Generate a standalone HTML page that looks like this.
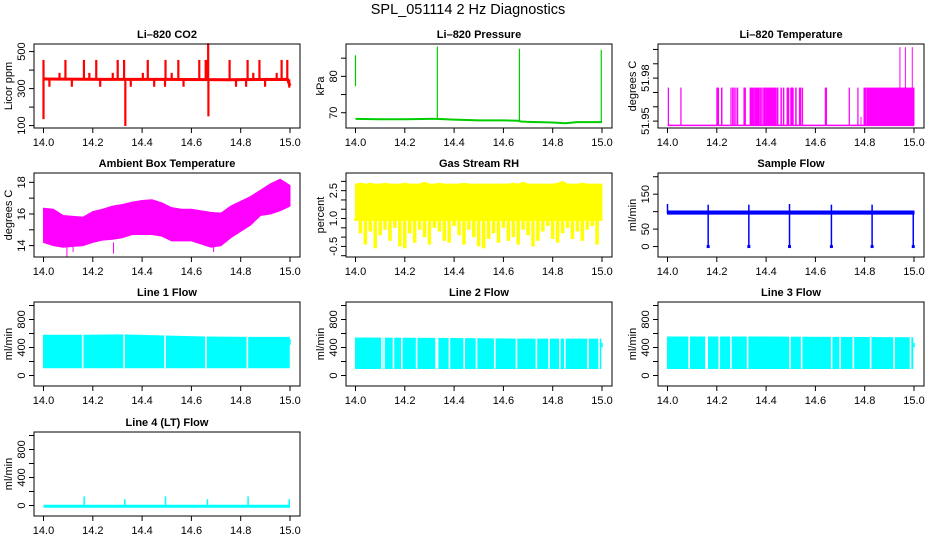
<!DOCTYPE html>
<html><head><meta charset="utf-8"><title>SPL_051114 2 Hz Diagnostics</title>
<style>
html,body{margin:0;padding:0;background:#fff;}
svg{display:block;font-family:"Liberation Sans",Arial,sans-serif;}
</style></head>
<body>
<svg id="chart" width="936" height="540" viewBox="0 0 936 540" xmlns="http://www.w3.org/2000/svg">
<rect width="936" height="540" fill="#fff"/>
<text x="468" y="14" text-anchor="middle" font-size="14.5">SPL_051114  2 Hz Diagnostics</text>
</svg>
<script>
// ---- data ----
const xTicks=[14.0,14.2,14.4,14.6,14.8,15.0];
const xTickLabels=["14.0","14.2","14.4","14.6","14.8","15.0"];

// CO2
const co2BaseT=[14.0,14.25,14.5,14.75,14.99,15.0];
const co2BaseV=[352,350,350,348,350,315];
const co2SpikeT=[14.0,14.0,14.089,14.164,14.214,14.301,14.327,14.332,14.423,14.495,14.547,14.632,14.658,14.662,14.668,14.669,14.755,14.828,14.876,14.966,14.989,
 14.065,14.186,14.281,14.403,14.520,14.851,14.946,
 14.024,14.115,14.230,14.354,14.449,14.493,14.568,14.781,14.822,14.899,14.997];
const co2SpikeV=[455,135,455,455,455,455,455,98,455,455,455,455,455,455,545,150,455,455,455,455,455,
 385,385,385,385,385,385,385,
 310,310,310,310,310,310,310,310,310,310,305];
const co2Ticks=[100,200,300,400,500];
const co2Labels=["100","","300","","500"];

// Pressure
const pressT=[14.0,14.1,14.2,14.3,14.33,14.4,14.5,14.6,14.66,14.67,14.7,14.8,14.85,14.9,15.0];
const pressV=[68.3,68.2,68.2,68.3,68.3,68.1,67.9,67.9,67.8,67.6,67.5,67.3,67.1,67.4,67.4];
const pressSpikeT=[14.0,14.332,14.665,14.997];
const pressSpikeLo=[77.3,68.0,67.5,67.5];
const pressSpikeHi=[85.8,88.2,87.6,87.3];
const pressTicks=[70,75,80,85];
const pressLabels=["70","","80",""];

// Li-820 temperature
const tempBase=51.9435, tempHigh=51.9567;
const tempHighStart=[14.003,14.054,14.200,14.219,14.257,14.264,14.270,14.277,14.284,14.310,14.335,14.349,14.356,14.374,14.382,14.390,14.398,14.413,14.420,14.438,14.445,14.460,14.470,14.485,14.490,14.500,14.505,14.520,14.535,14.546,14.640,14.737,14.772,14.797,14.803,14.810];
const tempHighEnd  =[14.004,14.055,14.207,14.221,14.258,14.265,14.271,14.278,14.285,14.316,14.345,14.352,14.370,14.377,14.384,14.395,14.410,14.418,14.435,14.440,14.448,14.462,14.472,14.487,14.492,14.502,14.510,14.522,14.540,14.548,14.645,14.738,14.773,14.800,14.805,15.000];
const tempSpikeT=[14.785,14.943,14.965,14.993];
const tempSpikeV=[51.9465,51.9708,51.9708,51.9708];
const tempTicks=[51.945,51.950,51.955,51.960,51.965,51.970];
const tempLabels=["51.95","","","51.98","",""];

// Ambient box temperature
const ambT =[14.00,14.04,14.08,14.12,14.16,14.20,14.24,14.28,14.32,14.36,14.40,14.44,14.48,14.52,14.56,14.60,14.64,14.68,14.72,14.76,14.80,14.84,14.88,14.92,14.96,15.00];
const ambHi=[16.36,16.3,15.9,15.85,15.8,16.15,16.3,16.5,16.6,16.75,16.85,16.9,16.7,16.4,16.3,16.3,16.2,16.1,16.05,16.5,16.8,17.1,17.5,17.9,18.2,17.8];
const ambLo=[14.2,14.0,13.9,13.95,14.0,14.2,14.35,14.4,14.5,14.7,14.7,14.7,14.6,14.3,14.3,14.3,14.1,13.9,14.0,14.5,14.9,15.3,15.9,16.0,16.2,16.5];
const ambOutT=[14.095,14.284,14.12,14.69];
const ambOutV=[13.3,13.5,13.6,13.6];
const ambTicks=[14,15,16,17,18];
const ambLabels=["14","","16","","18"];

// Gas stream RH
const rhT=[14.00,14.02,14.04,14.06,14.08,14.10,14.12,14.14,14.16,14.18,14.20,14.22,14.24,14.26,14.28,14.30,14.32,14.34,14.36,14.38,14.40,14.42,14.44,14.46,14.48,14.50,14.52,14.54,14.56,14.58,14.60,14.62,14.64,14.66,14.68,14.70,14.72,14.74,14.76,14.78,14.80,14.82,14.84,14.86,14.88,14.90,14.92,14.94,14.96,14.98,15.00];
const rhLo=[1.0,0.2,-0.4,0.3,-0.6,0.1,0.4,-0.2,0.5,-0.5,-0.6,0.2,-0.3,0.4,0.0,-0.4,0.5,0.3,-0.2,-0.3,0.6,0.1,-0.4,0.4,0.0,-0.5,-0.6,-0.1,0.2,-0.3,0.5,-0.2,0.0,-0.4,0.4,0.1,-0.5,-0.2,0.3,0.6,-0.1,-0.3,0.2,0.5,-0.1,0.3,-0.2,0.4,0.6,-0.4,0.9];
const rhHi=[2.85,2.9,2.85,2.9,2.85,2.85,2.9,2.85,2.85,2.85,2.9,2.85,2.85,2.85,2.95,2.85,2.85,2.9,2.85,2.85,2.85,2.85,2.9,2.85,2.85,2.85,2.85,2.85,2.85,2.85,2.85,2.85,2.9,2.85,2.95,2.85,2.85,2.85,2.85,2.85,2.85,2.9,3.0,2.85,2.85,2.85,2.9,2.85,2.85,2.85,2.85];
const rhCore=0.9;
const rhTicks=[-1.0,-0.5,0.0,0.5,1.0,1.5,2.0,2.5,3.0];
const rhLabels=["","-0.5","","","1.0","","","2.5",""];

// Sample flow
const sfBandT=[14.0,15.0];
const sfBandLo=[93,93];
const sfBandHi=[102,102];
const sfDipT=[14.0,14.165,14.33,14.495,14.665,14.83,14.997];
const sfDipV=[95,0,0,0,0,0,0];
const sfUpV=[122,120,120,122,120,120,103];
const sfTicks=[0,50,100,150,200];
const sfLabels=["0","50","","150",""];

// Line flows
const flowTicks=[0,200,400,600,800,1000];
const flowLabels=["0","","400","","800",""];
const l1TopT=[14.0,14.16,14.33,14.49,14.66,14.83,14.997];
const l1TopV=[575,575,580,565,550,545,545];
const l1Bottom=110;
const l1GapT=[14.159,14.327,14.493,14.659,14.827];
const l1EndT=15.0, l1EndLo=440, l1EndHi=520;

const l2TopT=[14.0,14.33,14.66,14.995];
const l2TopV=[535,530,520,520];
const l2Bottom=100;
const l2GapT=[14.107,14.116,14.154,14.188,14.248,14.327,14.333,14.381,14.441,14.491,14.565,14.653,14.734,14.785,14.829,14.849,14.943,14.988];
const l2EndT=15.0, l2EndLo=400, l2EndHi=470;

const l3TopT=[14.0,14.33,14.66,14.995];
const l3TopV=[550,550,545,540];
const l3Bottom=100;
const l3GapT=[14.088,14.156,14.161,14.210,14.257,14.325,14.497,14.544,14.666,14.700,14.754,14.824,14.919,14.986];
const l3EndT=15.0, l3EndLo=400, l3EndHi=470;

const l4BaseT=[14.0,15.0];
const l4BaseV=[-10,-10];
const l4SpikeT=[14.165,14.33,14.495,14.665,14.83,14.997];
const l4SpikeV=[130,90,130,90,130,90];

// ---- layout ----
const COLS=[34,346,658], ROWS=[44,173,302,432], W=266, H=84;
const svg=document.getElementById('chart');
const NS='http://www.w3.org/2000/svg';
function mk(tag,attrs,parent){const e=document.createElementNS(NS,tag);for(const k in attrs)e.setAttribute(k,attrs[k]);(parent||svg).appendChild(e);return e;}

function panel(name,col,row,ymin,ymax,title,ytitle,yt,yl){
  const p={left:COLS[col],top:ROWS[row],ymin:ymin,ymax:ymax};
  p.g=mk('g',{});
  
  
  p.x=t=>p.left+9.5+(t-14)*246.5;
  p.y=v=>p.top+(p.ymax-v)/(p.ymax-p.ymin)*H;
  p.data=mk('g',{},p.g);
  
  
  p.finish=function(){
    const fr=mk('rect',{x:p.left,y:p.top,width:W,height:H,fill:'none',stroke:'#000','stroke-width':1},p.g);
    
    
    const tt=mk('text',{x:p.left+W/2,y:p.top-6,'text-anchor':'middle','font-size':11,'font-weight':'bold'},p.g);
    tt.textContent=title;
    
    
    const xa=mk('g',{},p.g);
    
    
    const yb=p.top+H;
    mk('line',{x1:p.x(14),x2:p.x(15),y1:yb,y2:yb,stroke:'#000'},xa);
    xTicks.forEach((t,i)=>{
      mk('line',{x1:p.x(t),x2:p.x(t),y1:yb,y2:yb+5,stroke:'#000'},xa);
      const lb=mk('text',{x:p.x(t),y:yb+18,'text-anchor':'middle','font-size':11},xa);
      lb.textContent=xTickLabels[i];
      
      
    });
    const ya=mk('g',{},p.g);
    
    
    yt.forEach((v,i)=>{
      const yy=p.y(v);
      mk('line',{x1:p.left,x2:p.left-5,y1:yy,y2:yy,stroke:'#000'},ya);
      if(yl[i]){
        const lb=mk('text',{x:0,y:0,'text-anchor':'middle','font-size':11,transform:`translate(${p.left-9},${yy}) rotate(-90)`},ya);
        lb.textContent=yl[i];
        
        
      }
    });
    const yy0=p.y(yt[0]), yy1=p.y(yt[yt.length-1]);
    mk('line',{x1:p.left,x2:p.left,y1:Math.max(yy0,yy1),y2:Math.min(yy0,yy1),stroke:'#000'},ya);
    const ytl=mk('text',{x:0,y:0,'text-anchor':'middle','font-size':11,transform:`translate(${p.left-22},${p.top+H/2}) rotate(-90)`},p.g);
    ytl.textContent=ytitle;
    
    
  };
  return p;
}
function vline(p,t,a,b,color,w){return mk('line',{x1:p.x(t),x2:p.x(t),y1:p.y(a),y2:p.y(b),stroke:color,'stroke-width':w||1},p.data);}
function poly(p,T,V,color,w){return mk('polyline',{points:T.map((t,i)=>p.x(t)+','+p.y(V[i])).join(' '),fill:'none',stroke:color,'stroke-width':w},p.data);}
function band(p,T,Hi,Lo,color){
  const pts=T.map((t,i)=>p.x(t)+','+p.y(Hi[i])).concat(T.map((t,i)=>[t,i]).reverse().map(([t,i])=>p.x(t)+','+p.y(Lo[i])));
  return mk('polygon',{points:pts.join(' '),fill:color,stroke:color,'stroke-width':1},p.data);
}

// CO2
let p=panel('co2',0,0,87,541,'Li\u2013820 CO2','Licor ppm',co2Ticks,co2Labels);
co2SpikeT.forEach((t,i)=>vline(p,t,350,co2SpikeV[i],'#ff0000',2.2));
poly(p,co2BaseT,co2BaseV,'#ff0000',3);
p.finish();

// Pressure
p=panel('pressure',1,0,65.8,88.9,'Li\u2013820 Pressure','kPa',pressTicks,pressLabels);
poly(p,pressT,pressV,'#00cc00',2);
pressSpikeT.forEach((t,i)=>vline(p,t,pressSpikeLo[i],pressSpikeHi[i],'#00cc00',1.2));
p.finish();

// Li-820 Temperature
p=panel('li820-temperature',2,0,51.9426,51.9719,'Li\u2013820 Temperature','degrees C',tempTicks,tempLabels);
poly(p,[14.0,15.0],[tempBase,tempBase],'#ff00ff',1.5);
tempHighStart.forEach((t,i)=>{
  const x0=p.x(t), x1=p.x(tempHighEnd[i]);
  mk('rect',{x:x0-0.5,y:p.y(tempHigh),width:Math.max(1,x1-x0+1),height:p.y(tempBase)-p.y(tempHigh),fill:'#ff00ff'},p.data);
});
tempSpikeT.forEach((t,i)=>vline(p,t,tempBase,tempSpikeV[i],'#ff00ff',1));
p.finish();

// Ambient
p=panel('ambient-temperature',0,1,13.28,18.59,'Ambient Box Temperature','degrees C',ambTicks,ambLabels);
band(p,ambT,ambHi,ambLo,'#ff00ff');
ambOutT.forEach((t,i)=>vline(p,t,14.2,ambOutV[i],'#ff00ff',1));
p.finish();

// RH
p=panel('gas-stream-rh',1,1,-1.07,3.45,'Gas Stream RH','percent',rhTicks,rhLabels);
band(p,rhT,rhHi,rhT.map(()=>rhCore),'#ffff00');
rhT.forEach((t,i)=>vline(p,t,rhCore,rhLo[i],'#ffff00',3.5));
p.finish();

// Sample flow
p=panel('sample-flow',2,1,-29.9,210.7,'Sample Flow','ml/min',sfTicks,sfLabels);
band(p,sfBandT,sfBandHi,sfBandLo,'#0000ff');
sfDipT.forEach((t,i)=>{vline(p,t,sfDipV[i],sfUpV[i],'#0000ff',1.5);
  if(sfDipV[i]<5) mk('rect',{x:p.x(t)-1.5,y:p.y(sfDipV[i])-1.5,width:3,height:3,fill:'#0000ff'},p.data);});
p.finish();

// Line flows
function flowPanel(name,col,row,title,TT,TV,bottom,gaps,eT,eLo,eHi){
  const q=panel(name,col,row,-150,1050,title,'ml/min',flowTicks,flowLabels);
  band(q,TT,TV,TT.map(()=>bottom),'#00ffff');
  gaps.forEach(t=>vline(q,t,bottom-5,620,'#ffffff',1.6));
  vline(q,eT,eLo,eHi,'#00ffff',1.5);
  q.finish();
}
flowPanel('line1-flow',0,2,'Line 1 Flow',l1TopT,l1TopV,l1Bottom,l1GapT,l1EndT,l1EndLo,l1EndHi);
flowPanel('line2-flow',1,2,'Line 2 Flow',l2TopT,l2TopV,l2Bottom,l2GapT,l2EndT,l2EndLo,l2EndHi);
flowPanel('line3-flow',2,2,'Line 3 Flow',l3TopT,l3TopV,l3Bottom,l3GapT,l3EndT,l3EndLo,l3EndHi);

// Line 4
p=panel('line4-flow',0,3,-150,1050,'Line 4 (LT) Flow','ml/min',flowTicks,flowLabels);
poly(p,l4BaseT,l4BaseV,'#00ffff',3);
l4SpikeT.forEach((t,i)=>vline(p,t,-10,l4SpikeV[i],'#00ffff',1.5));
p.finish();
</script>
</body></html>
